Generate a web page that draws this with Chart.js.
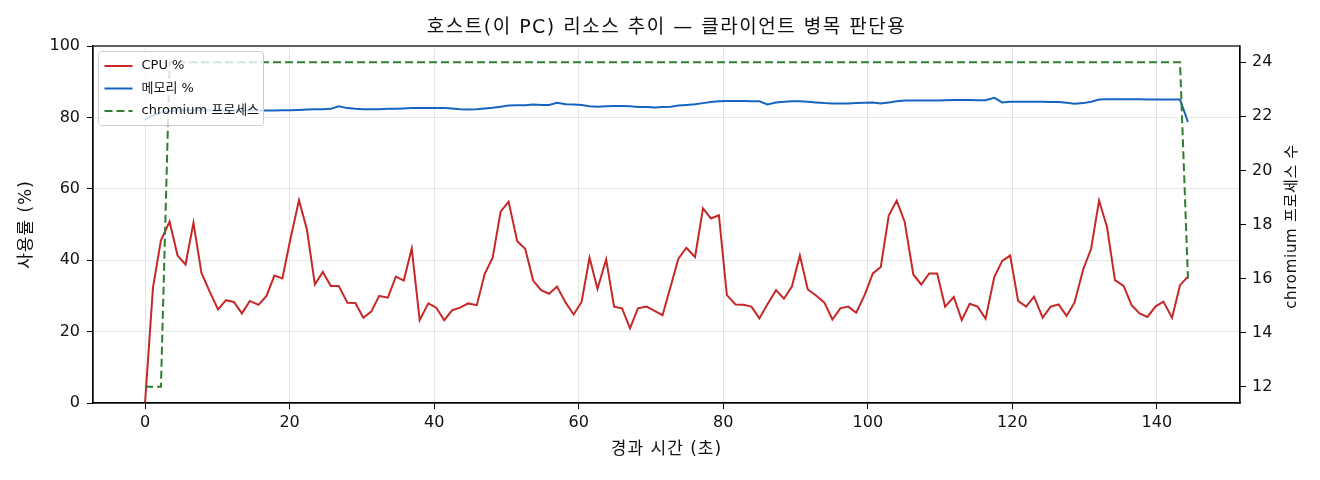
<!DOCTYPE html>
<html lang="ko">
<head>
    <meta charset="UTF-8">
    <title>호스트 리소스 추이</title>
    <script src="https://cdn.jsdelivr.net/npm/chart.js"></script>
    <style>
        body { margin: 0; background: #fff; }
        #wrap { width: 1320px; height: 480px; position: relative; }
    </style>
</head>
<body>
    <div id="wrap"><canvas id="resourceChart"></canvas></div>

    <script>
        // elapsed seconds for each sample
        const TIME_S = [
            0.0, 1.1, 2.2, 3.4, 4.5, 5.6, 6.7, 7.8, 8.9, 10.1,
            11.2, 12.3, 13.4, 14.5, 15.7, 16.8, 17.9, 19.0, 20.1, 21.3,
            22.4, 23.5, 24.6, 25.7, 26.8, 28.0, 29.1, 30.2, 31.3, 32.4,
            33.6, 34.7, 35.8, 36.9, 38.0, 39.2, 40.3, 41.4, 42.5, 43.6,
            44.7, 45.9, 47.0, 48.1, 49.2, 50.3, 51.5, 52.6, 53.7, 54.8,
            55.9, 57.0, 58.2, 59.3, 60.4, 61.5, 62.6, 63.8, 64.9, 66.0,
            67.1, 68.2, 69.4, 70.5, 71.6, 72.7, 73.8, 74.9, 76.1, 77.2,
            78.3, 79.4, 80.5, 81.7, 82.8, 83.9, 85.0, 86.1, 87.3, 88.4,
            89.5, 90.6, 91.7, 92.8, 94.0, 95.1, 96.2, 97.3, 98.4, 99.6,
            100.7, 101.8, 102.9, 104.0, 105.1, 106.3, 107.4, 108.5, 109.6, 110.7,
            111.9, 113.0, 114.1, 115.2, 116.3, 117.5, 118.6, 119.7, 120.8, 121.9,
            123.0, 124.2, 125.3, 126.4, 127.5, 128.6, 129.8, 130.9, 132.0, 133.1,
            134.2, 135.4, 136.5, 137.6, 138.7, 139.8, 140.9, 142.1, 143.2, 144.3
        ];

        const CPU_PCT = [
            0.0, 32.3, 45.6, 50.8, 41.3, 38.8, 50.5, 36.5, 31.4, 26.2,
            28.8, 28.3, 25.1, 28.6, 27.5, 30.0, 35.7, 34.9, 45.8, 56.8,
            48.6, 33.2, 36.7, 32.8, 32.8, 28.1, 28.0, 23.9, 25.6, 30.0,
            29.5, 35.4, 34.3, 43.3, 23.2, 27.9, 26.7, 23.2, 26.0, 26.7,
            27.9, 27.4, 36.2, 40.7, 53.6, 56.4, 45.3, 43.2, 34.3, 31.6,
            30.6, 32.6, 28.1, 24.8, 28.3, 40.7, 32.0, 40.2, 27.0, 26.5,
            20.9, 26.5, 27.0, 25.8, 24.6, 32.5, 40.4, 43.5, 40.9, 54.5,
            51.7, 52.6, 30.2, 27.6, 27.5, 27.0, 23.7, 27.6, 31.6, 29.2,
            32.6, 41.3, 31.8, 30.2, 28.1, 23.4, 26.5, 27.0, 25.3, 30.4,
            36.3, 38.1, 52.5, 56.7, 50.8, 36.0, 33.2, 36.3, 36.3, 27.0,
            29.7, 23.2, 27.8, 27.0, 23.6, 35.3, 39.8, 41.3, 28.6, 27.0,
            29.8, 23.9, 27.0, 27.6, 24.4, 28.1, 37.4, 43.2, 56.7, 49.3,
            34.4, 32.8, 27.4, 25.1, 24.1, 27.0, 28.4, 23.9, 33.0, 35.4
        ];

        const MEM_PCT = [
            79.4, 80.6, 81.3, 81.7, 81.9, 82.0, 82.0, 82.0, 81.9, 81.9,
            81.9, 81.9, 81.9, 81.9, 81.9, 81.9, 81.9, 82.0, 82.0, 82.1,
            82.2, 82.3, 82.3, 82.4, 83.1, 82.6, 82.4, 82.3, 82.3, 82.3,
            82.4, 82.4, 82.5, 82.6, 82.6, 82.6, 82.6, 82.6, 82.5, 82.3,
            82.2, 82.3, 82.5, 82.7, 83.0, 83.3, 83.4, 83.4, 83.6, 83.5,
            83.5, 84.1, 83.7, 83.6, 83.5, 83.1, 83.0, 83.1, 83.2, 83.2,
            83.1, 82.9, 82.9, 82.8, 82.9, 83.0, 83.3, 83.5, 83.7, 84.0,
            84.3, 84.5, 84.6, 84.6, 84.6, 84.5, 84.5, 83.6, 84.2, 84.4,
            84.5, 84.5, 84.4, 84.2, 84.0, 83.9, 83.9, 83.9, 84.0, 84.1,
            84.2, 83.9, 84.2, 84.5, 84.7, 84.7, 84.7, 84.7, 84.7, 84.8,
            84.9, 84.9, 84.9, 84.8, 84.8, 85.5, 84.2, 84.4, 84.4, 84.4,
            84.4, 84.4, 84.3, 84.3, 84.1, 83.8, 84.0, 84.4, 85.0, 85.1,
            85.1, 85.1, 85.1, 85.1, 85.0, 85.0, 85.0, 85.0, 85.0, 78.7
        ];

        const CHROMIUM_PROCS = [
            12, 12, 12, 24, 24, 24, 24, 24, 24, 24,
            24, 24, 24, 24, 24, 24, 24, 24, 24, 24,
            24, 24, 24, 24, 24, 24, 24, 24, 24, 24,
            24, 24, 24, 24, 24, 24, 24, 24, 24, 24,
            24, 24, 24, 24, 24, 24, 24, 24, 24, 24,
            24, 24, 24, 24, 24, 24, 24, 24, 24, 24,
            24, 24, 24, 24, 24, 24, 24, 24, 24, 24,
            24, 24, 24, 24, 24, 24, 24, 24, 24, 24,
            24, 24, 24, 24, 24, 24, 24, 24, 24, 24,
            24, 24, 24, 24, 24, 24, 24, 24, 24, 24,
            24, 24, 24, 24, 24, 24, 24, 24, 24, 24,
            24, 24, 24, 24, 24, 24, 24, 24, 24, 24,
            24, 24, 24, 24, 24, 24, 24, 24, 24, 16
        ];

        const X_TICKS = [0, 20, 40, 60, 80, 100, 120, 140];
        const PCT_TICKS = [0, 20, 40, 60, 80, 100];
        const PROC_TICKS = [12, 14, 16, 18, 20, 22, 24];

        const SERIES_LABELS = ['CPU %', '메모리 %', 'chromium 프로세스'];
        const TITLE = '호스트(이 PC) 리소스 추이 — 클라이언트 병목 판단용';
        const X_TITLE = '경과 시간 (초)';
        const Y_TITLE = '사용률 (%)';
        const Y2_TITLE = 'chromium 프로세스 수';

        const RED = '#c62828';
        const BLUE = '#1565c0';
        const GREEN = '#2e7d32';
        const FONT = '"DejaVu Sans", "Noto Sans CJK KR", sans-serif';

        function points(ys) {
            return TIME_S.map((t, i) => ({ x: t, y: ys[i] }));
        }

        // frame, titles and the in-plot legend (matplotlib style)
        const decorations = {
            id: 'decorations',
            afterDraw(chart) {
                const ctx = chart.ctx;
                const a = chart.chartArea;
                ctx.save();

                ctx.strokeStyle = '#000';
                ctx.lineWidth = 1.2;
                ctx.strokeRect(a.left, a.top, a.right - a.left, a.bottom - a.top);

                ctx.fillStyle = '#111';
                ctx.textAlign = 'center';
                ctx.textBaseline = 'middle';
                ctx.font = '19px ' + FONT;
                ctx.letterSpacing = '1.5px';
                ctx.fillText(TITLE, (a.left + a.right) / 2, 28);

                ctx.font = '17px ' + FONT;
                ctx.letterSpacing = '1px';
                ctx.fillText(X_TITLE, (a.left + a.right) / 2, 450);

                const midY = (a.top + a.bottom) / 2;
                ctx.save();
                ctx.translate(27, midY);
                ctx.rotate(-Math.PI / 2);
                ctx.fillText(Y_TITLE, 0, 0);
                ctx.restore();

                ctx.save();
                ctx.font = '15px ' + FONT;
                ctx.letterSpacing = '0.7px';
                ctx.translate(1292, midY + 2);
                ctx.rotate(-Math.PI / 2);
                ctx.fillText(Y2_TITLE, 0, 0);
                ctx.restore();
                ctx.letterSpacing = '0px';

                // legend box
                const bx = a.left + 5.5, by = a.top + 5.5, bw = 165, bh = 74;
                ctx.beginPath();
                ctx.roundRect(bx, by, bw, bh, 3);
                ctx.fillStyle = 'rgba(255,255,255,0.8)';
                ctx.fill();
                ctx.strokeStyle = '#cccccc';
                ctx.lineWidth = 1;
                ctx.stroke();

                const colors = [RED, BLUE, GREEN];
                ctx.font = '13px ' + FONT;
                ctx.textAlign = 'left';
                SERIES_LABELS.forEach((label, i) => {
                    const y = by + 14.5 + i * 22.5;
                    ctx.beginPath();
                    ctx.setLineDash(i === 2 ? [8, 4] : []);
                    ctx.strokeStyle = colors[i];
                    ctx.lineWidth = 2;
                    ctx.moveTo(bx + 6, y);
                    ctx.lineTo(bx + 34, y);
                    ctx.stroke();
                    ctx.fillStyle = '#111';
                    ctx.fillText(label, bx + 43, y);
                });
                ctx.restore();
            }
        };

        document.addEventListener('DOMContentLoaded', () => {
            const canvas = document.getElementById('resourceChart');

            new Chart(canvas, {
                type: 'line',
                data: {
                    datasets: [
                        {
                            label: SERIES_LABELS[0],
                            data: points(CPU_PCT),
                            borderColor: RED,
                            borderWidth: 2,
                            pointRadius: 0,
                            tension: 0,
                            yAxisID: 'y',
                            order: 2
                        },
                        {
                            label: SERIES_LABELS[1],
                            data: points(MEM_PCT),
                            borderColor: BLUE,
                            borderWidth: 2,
                            pointRadius: 0,
                            tension: 0,
                            yAxisID: 'y',
                            order: 1
                        },
                        {
                            label: SERIES_LABELS[2],
                            data: points(CHROMIUM_PROCS),
                            borderColor: GREEN,
                            borderWidth: 2,
                            borderDash: [8, 4],
                            pointRadius: 0,
                            tension: 0,
                            yAxisID: 'y2',
                            order: 0
                        }
                    ]
                },
                options: {
                    responsive: true,
                    maintainAspectRatio: false,
                    animation: false,
                    layout: { padding: { top: 46, left: 0, right: 0, bottom: 0 } },
                    plugins: {
                        legend: { display: false },
                        tooltip: { enabled: false },
                        title: { display: false }
                    },
                    scales: {
                        x: {
                            type: 'linear',
                            min: -7.2,
                            max: 151.5,
                            afterBuildTicks: s => { s.ticks = X_TICKS.map(v => ({ value: v })); },
                            afterFit: s => { s.height = 77; },
                            grid: { color: '#e5e5e5', tickColor: '#000', tickLength: 6 },
                            border: { color: '#000', width: 1.2 },
                            ticks: { color: '#111', font: { family: FONT, size: 16 }, padding: 4, maxRotation: 0 }
                        },
                        y: {
                            position: 'left',
                            min: 0,
                            max: 100,
                            afterBuildTicks: s => { s.ticks = PCT_TICKS.map(v => ({ value: v })); },
                            afterFit: s => { s.width = 93; },
                            grid: { color: '#e5e5e5', tickColor: '#000', tickLength: 6 },
                            border: { color: '#000', width: 1.2 },
                            ticks: { color: '#111', font: { family: FONT, size: 16 }, padding: 7 }
                        },
                        y2: {
                            position: 'right',
                            min: 11.4,
                            max: 24.6,
                            afterBuildTicks: s => { s.ticks = PROC_TICKS.map(v => ({ value: v })); },
                            afterFit: s => { s.width = 80; },
                            grid: { drawOnChartArea: false, tickColor: '#000', tickLength: 6 },
                            border: { color: '#000', width: 1.2 },
                            ticks: { color: '#111', font: { family: FONT, size: 16 }, padding: 6 }
                        }
                    }
                },
                plugins: [decorations]
            });
        });
    </script>
</body>
</html>
